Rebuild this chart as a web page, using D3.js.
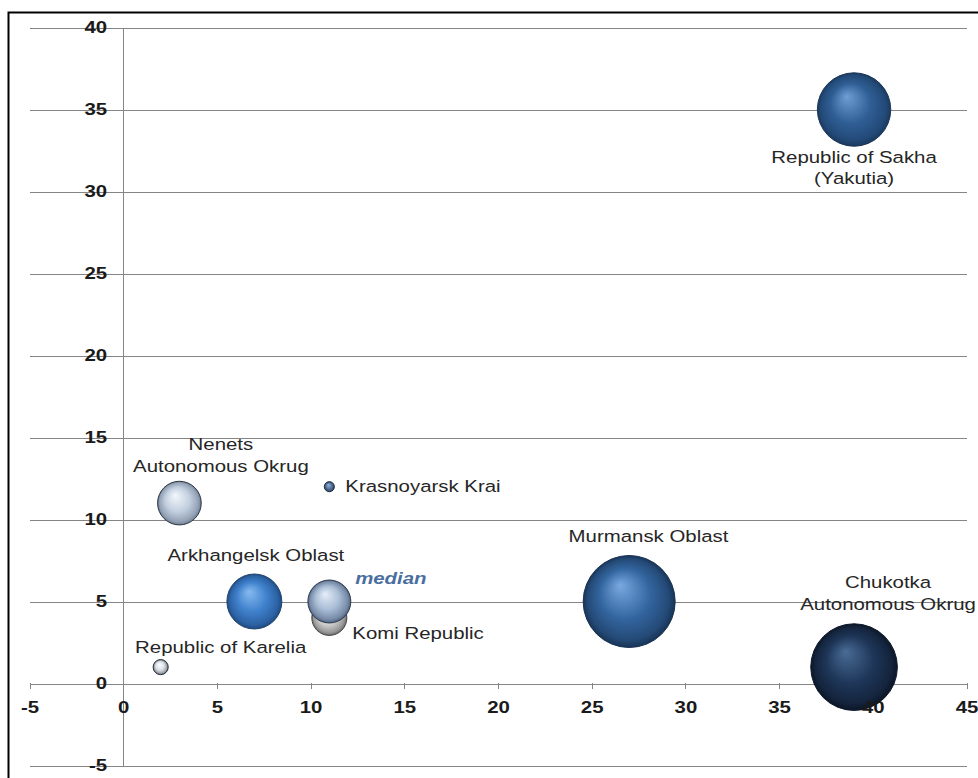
<!DOCTYPE html>
<html><head><meta charset="utf-8">
<script src="https://cdn.jsdelivr.net/npm/d3@7"></script>
<style>
html,body{margin:0;padding:0;background:#fff;}
svg{display:block;}
text{font-family:"Liberation Sans",Arial,Helvetica,sans-serif;}
</style></head><body>
<svg id="chart" width="978" height="778"></svg>
<script>
// ---------- data ----------
const regions = ["Republic of Karelia","Nenets Autonomous Okrug","Krasnoyarsk Krai","Arkhangelsk Oblast","Komi Republic","median","Murmansk Oblast","Chukotka Autonomous Okrug","Republic of Sakha (Yakutia)"];
const labelLines = [["Republic of Karelia"],["Nenets","Autonomous Okrug"],["Krasnoyarsk Krai"],["Arkhangelsk Oblast"],["Komi Republic"],["median"],["Murmansk Oblast"],["Chukotka","Autonomous Okrug"],["Republic of Sakha","(Yakutia)"]];
const xValues = [2, 3, 11, 7, 11, 11, 27, 39, 39];
const yValues = [1, 11, 12, 5, 4, 5, 5, 1, 35];
const sizeValues = [2.7, 22.5, 1.2, 35.7, 14.5, 21.8, 100, 88.7, 63.7];
const xTicks = [-5, 0, 5, 10, 15, 20, 25, 30, 35, 40, 45];
const yTicks = [-5, 0, 5, 10, 15, 20, 25, 30, 35, 40];

// ---------- styles / layout ----------
const palette = [
  {hi:"#ffffff", base:"#dde2e8", rim:"#5b6370", stroke:"#2b2f36"},
  {hi:"#f4f7fb", base:"#c3d0e0", rim:"#6f7f95", stroke:"#2c3440"},
  {hi:"#9db8d8", base:"#56779f", rim:"#223650", stroke:"#1b2a3e"},
  {hi:"#86bbf0", base:"#3f80cc", rim:"#1d4a82", stroke:"#24456e"},
  {hi:"#f6f6f6", base:"#cfcfcf", rim:"#6a6a6a", stroke:"#444444"},
  {hi:"#e6eef8", base:"#a9bdd6", rim:"#4f6280", stroke:"#2e3a4c"},
  {hi:"#79a9e0", base:"#33659f", rim:"#183456", stroke:"#1a3352"},
  {hi:"#4a6c96", base:"#1e3658", rim:"#0b1626", stroke:"#0e1a2c"},
  {hi:"#6f9ed6", base:"#2f5e95", rim:"#1a3a60", stroke:"#1b3556"}
];
// label offset from bubble centre: [dx, first-baseline dy, anchor]
const labelLayout = [
  [60, -14, "middle"],
  [41.5, -53, "middle"],
  [16, 5.5, "start"],
  [1.5, -41, "middle"],
  [23, 21.5, "start"],
  [61.5, -18, "middle"],
  [19.3, -59.5, "middle"],
  [34, -79, "middle"],
  [0, 53, "middle"]
];
const FS = 17, SX = 1.2, LINE = 22;

const svg = d3.select("#chart");
const defs = svg.append("defs");

const x = d3.scaleLinear().domain([-5, 45]).range([29.5, 966.5]);
const y = d3.scaleLinear().domain([-5, 40]).range([765.5, 27.5]);
const r = d3.scaleSqrt().domain([0, d3.max(sizeValues)]).range([0, 46]);

const data = regions.map((name, i) => ({name, i, x: xValues[i], y: yValues[i], s: sizeValues[i], lines: labelLines[i]}));
const fmt = d => String(d);

// frame
svg.append("rect").attr("x", 8.5).attr("y", 12.5).attr("width", 1000).attr("height", 800)
  .attr("fill", "none").attr("stroke", "#000").attr("stroke-width", 2);

// gridlines
const grid = svg.append("g").attr("transform", `translate(${x(-5)},0)`)
  .call(d3.axisRight(y).tickValues(yTicks).tickSize(x(45) - x(-5)).tickFormat(""));
grid.select(".domain").remove();
grid.selectAll("line").attr("stroke", "#858585").attr("stroke-width", 1).attr("shape-rendering", "crispEdges");

// x axis line + ticks
const xAxisLines = svg.append("g").attr("transform", `translate(0,${y(0)})`)
  .call(d3.axisBottom(x).tickValues(xTicks).tickSize(5).tickSizeOuter(0).tickFormat(""));
xAxisLines.select(".domain").attr("stroke", "#858585").attr("shape-rendering", "crispEdges");
xAxisLines.selectAll("line").attr("stroke", "#858585").attr("y1", -1).attr("shape-rendering", "crispEdges");

// y axis line
svg.append("line").attr("x1", x(0)).attr("x2", x(0)).attr("y1", y(-5)).attr("y2", y(40))
  .attr("stroke", "#858585").attr("shape-rendering", "crispEdges");

// gradients
data.forEach(d => {
  const p = palette[d.i];
  const g = defs.append("radialGradient").attr("id", "g" + d.i)
    .attr("cx", "50%").attr("cy", "50%").attr("r", "50%").attr("fx", "40%").attr("fy", "32%");
  g.append("stop").attr("offset", "0%").attr("stop-color", p.hi);
  g.append("stop").attr("offset", "55%").attr("stop-color", p.base);
  g.append("stop").attr("offset", "88%").attr("stop-color", d3.interpolateRgb(p.base, p.rim)(0.55));
  g.append("stop").attr("offset", "100%").attr("stop-color", p.rim);
});

// bubbles
svg.append("g").selectAll("circle").data(data).join("circle")
  .attr("cx", d => x(d.x)).attr("cy", d => y(d.y)).attr("r", d => r(d.s))
  .attr("fill", d => `url(#g${d.i})`)
  .attr("stroke", d => palette[d.i].stroke).attr("stroke-width", 1);

// axis labels (on top of bubbles)
const xLab = svg.append("g").attr("transform", `translate(0,${y(0)})`)
  .call(d3.axisBottom(x).tickValues(xTicks).tickSize(0).tickPadding(17).tickFormat(fmt));
xLab.select(".domain").remove();
xLab.selectAll("line").remove();
xLab.selectAll("text").attr("font-size", FS).attr("font-weight", "bold").attr("fill", "#1a1a1a")
  .attr("font-family", "Liberation Sans, Arial, sans-serif").attr("transform", `scale(${SX},1)`);

const yLab = svg.append("g").attr("transform", `translate(${x(0)},0)`)
  .call(d3.axisLeft(y).tickValues(yTicks).tickSize(0).tickPadding(16).tickFormat(fmt));
yLab.select(".domain").remove();
yLab.selectAll("line").remove();
yLab.selectAll("text").attr("font-size", FS).attr("font-weight", "bold").attr("fill", "#1a1a1a")
  .attr("font-family", "Liberation Sans, Arial, sans-serif")
  .attr("x", -16 / SX).attr("transform", `scale(${SX},1)`);

// bubble labels
const lab = svg.append("g").selectAll("text").data(data).join("text")
  .attr("transform", d => `translate(${x(d.x) + labelLayout[d.i][0]},${y(d.y) + labelLayout[d.i][1]}) scale(${SX},1)`)
  .attr("text-anchor", d => labelLayout[d.i][2])
  .attr("font-size", FS)
  .attr("fill", d => d.name === "median" ? "#4a6f9f" : "#262626")
  .attr("font-weight", d => d.name === "median" ? "bold" : "normal")
  .attr("font-style", d => d.name === "median" ? "italic" : "normal");
lab.selectAll("tspan").data(d => d.lines).join("tspan")
  .attr("x", 0).attr("dy", (t, j) => j === 0 ? 0 : LINE).text(t => t);
</script>
</body></html>
